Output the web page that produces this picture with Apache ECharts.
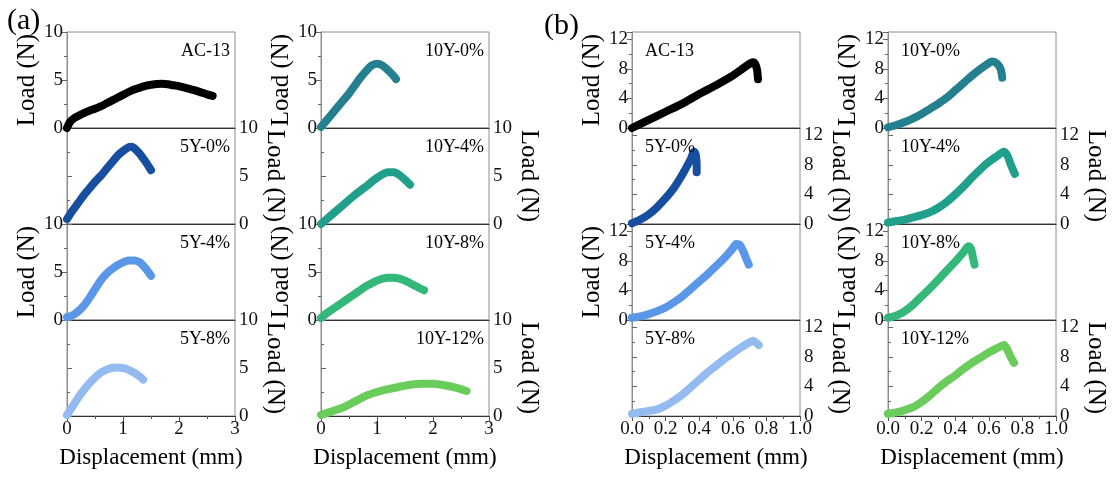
<!DOCTYPE html>
<html>
<head>
<meta charset="utf-8">
<script src="https://cdn.jsdelivr.net/npm/echarts@6.0.0/dist/echarts.min.js"></script>
<style>
  html, body { margin: 0; padding: 0; background: #fff; }
  #chart { width: 1115px; height: 480px; }
</style>
</head>
<body>
<div id="chart"></div>
<script>
// sample names and colours
var sampleNames = ['AC-13', '5Y-0%', '5Y-4%', '5Y-8%', '10Y-0%', '10Y-4%', '10Y-8%', '10Y-12%'];
var sampleColors = ['#000000', '#174ea0', '#5b97e8', '#93bbf0', '#24808e', '#20a08a', '#33b87a', '#6acd5b'];

// (a) displacement (mm) / load (N)
var aAC13 = [[0,0],[0.05,0.6],[0.1,0.9],[0.2,1.25],[0.3,1.55],[0.4,1.8],[0.5,2.0],[0.6,2.25],[0.7,2.55],[0.8,2.85],[0.9,3.15],[1.0,3.45],[1.1,3.75],[1.2,4.0],[1.3,4.2],[1.4,4.4],[1.5,4.5],[1.6,4.58],[1.7,4.6],[1.8,4.55],[1.9,4.45],[2.0,4.35],[2.1,4.2],[2.2,4.05],[2.3,3.9],[2.4,3.7],[2.5,3.5],[2.6,3.35]];
var a5Y0 = [[0,0.5],[0.1,1.4],[0.2,2.2],[0.3,3.0],[0.4,3.7],[0.5,4.4],[0.6,5.0],[0.7,5.7],[0.8,6.4],[0.9,7.1],[1.0,7.6],[1.1,8.0],[1.15,8.05],[1.2,7.9],[1.3,7.3],[1.4,6.5],[1.5,5.6]];
var a5Y4 = [[0,0.3],[0.1,0.5],[0.2,0.9],[0.3,1.5],[0.4,2.3],[0.5,3.2],[0.6,4.1],[0.7,4.8],[0.8,5.3],[0.9,5.7],[1.0,6.0],[1.1,6.2],[1.2,6.2],[1.3,6.0],[1.4,5.4],[1.5,4.6]];
var a5Y8 = [[0,0.1],[0.1,1.0],[0.2,1.9],[0.3,2.7],[0.4,3.4],[0.5,4.0],[0.6,4.5],[0.7,4.8],[0.8,5.0],[0.9,5.05],[1.0,5.0],[1.1,4.8],[1.2,4.5],[1.3,4.1],[1.36,3.8]];
var a10Y0 = [[0,0.1],[0.1,0.8],[0.2,1.5],[0.3,2.2],[0.4,2.9],[0.5,3.6],[0.6,4.4],[0.7,5.2],[0.8,5.9],[0.9,6.5],[1.0,6.7],[1.1,6.5],[1.2,6.0],[1.3,5.4],[1.34,5.1]];
var a10Y4 = [[0,0],[0.2,1.0],[0.4,2.0],[0.6,3.0],[0.8,3.9],[1.0,4.8],[1.2,5.4],[1.3,5.4],[1.4,5.1],[1.5,4.6],[1.59,4.1]];
var a10Y8 = [[0,0.2],[0.1,0.7],[0.2,1.1],[0.3,1.5],[0.4,1.9],[0.5,2.3],[0.6,2.7],[0.7,3.1],[0.8,3.5],[0.9,3.8],[1.0,4.1],[1.1,4.3],[1.2,4.4],[1.3,4.4],[1.4,4.3],[1.5,4.1],[1.6,3.8],[1.7,3.5],[1.8,3.2],[1.84,3.1]];
var a10Y12 = [[0,0.1],[0.2,0.5],[0.4,0.9],[0.6,1.5],[0.8,2.1],[1.0,2.5],[1.2,2.8],[1.4,3.05],[1.6,3.25],[1.8,3.35],[2.0,3.35],[2.2,3.2],[2.4,2.95],[2.6,2.6]];

// (b) displacement (mm) / load (N)
var bAC13 = [[0,0],[0.1,1.1],[0.2,2.2],[0.3,3.3],[0.4,4.6],[0.5,5.8],[0.6,7.1],[0.65,7.9],[0.7,8.7],[0.72,8.9],[0.735,8.6],[0.745,7.8],[0.75,6.6]];
var b5Y0 = [[0,0.1],[0.05,0.6],[0.1,1.3],[0.15,2.3],[0.2,3.5],[0.25,4.9],[0.3,6.7],[0.35,8.8],[0.37,9.8],[0.38,9.3],[0.385,8.0],[0.385,7.0]];
var b5Y4 = [[0,0.3],[0.05,0.5],[0.1,0.8],[0.15,1.2],[0.2,1.7],[0.25,2.4],[0.3,3.2],[0.35,4.2],[0.4,5.2],[0.45,6.2],[0.5,7.3],[0.55,8.4],[0.6,9.7],[0.62,10.3],[0.64,10.2],[0.66,9.4],[0.68,8.3],[0.695,7.5]];
var b5Y8 = [[0,0.3],[0.05,0.5],[0.1,0.7],[0.15,0.9],[0.2,1.4],[0.25,2.1],[0.3,2.9],[0.35,3.9],[0.4,4.9],[0.45,5.9],[0.5,6.8],[0.55,7.7],[0.6,8.5],[0.65,9.3],[0.7,10.0],[0.72,10.2],[0.74,9.9],[0.755,9.6]];
var b10Y0 = [[0,0.1],[0.05,0.4],[0.1,0.8],[0.15,1.3],[0.2,1.9],[0.25,2.6],[0.3,3.3],[0.35,4.1],[0.4,5.1],[0.45,6.1],[0.5,7.1],[0.55,8.0],[0.6,8.8],[0.62,9.0],[0.65,8.7],[0.67,8.0],[0.68,6.8]];
var b10Y4 = [[0,0.2],[0.05,0.4],[0.1,0.6],[0.15,0.9],[0.2,1.2],[0.25,1.6],[0.3,2.2],[0.35,3.0],[0.4,4.0],[0.45,5.1],[0.5,6.3],[0.55,7.4],[0.6,8.4],[0.65,9.2],[0.69,9.8],[0.71,9.3],[0.73,8.1],[0.755,6.8]];
var b10Y8 = [[0,0.3],[0.05,0.6],[0.1,1.2],[0.15,2.1],[0.2,3.2],[0.25,4.3],[0.3,5.5],[0.35,6.7],[0.4,7.9],[0.45,9.2],[0.48,10.0],[0.495,9.6],[0.505,8.5],[0.515,7.5]];
var b10Y12 = [[0,0.3],[0.05,0.5],[0.1,0.8],[0.15,1.2],[0.2,1.9],[0.25,2.8],[0.3,3.8],[0.35,4.7],[0.4,5.5],[0.45,6.4],[0.5,7.2],[0.55,7.9],[0.6,8.6],[0.65,9.2],[0.69,9.6],[0.71,9.0],[0.73,8.0],[0.75,7.2]];

var aData = [aAC13, a5Y0, a5Y4, a5Y8, a10Y0, a10Y4, a10Y8, a10Y12];
var bData = [bAC13, b5Y0, b5Y4, b5Y8, b10Y0, b10Y4, b10Y8, b10Y12];

(function () {
    'use strict';

    var font = 'Liberation Serif, serif';
    var colLeft = [67, 321, 632, 888];
    var rowTop = 32, rowH = 96, colW = 168;

    var grids = [], xAxes = [], yAxes = [], series = [], titles = [];

    // panel letters
    titles.push({ text: '(a)', left: 7, top: 6, padding: 0, textStyle: { fontFamily: font, fontSize: 30, fontWeight: 'normal', color: '#000' } });
    titles.push({ text: '(b)', left: 544, top: 11, padding: 0, textStyle: { fontFamily: font, fontSize: 30, fontWeight: 'normal', color: '#000' } });

    for (var p = 0; p < 16; p++) {
        var isA = p < 8;
        var k = p % 8;
        var col = (isA ? 0 : 2) + (k < 4 ? 0 : 1);
        var row = k % 4;
        var isBottom = row === 3;
        var onRight = row % 2 === 1;
        var rowY = rowTop + row * rowH;

        grids.push({ left: colLeft[col], top: rowY, width: colW, height: rowH,
            show: true, borderColor: '#8c8c8c', borderWidth: 1 });

        xAxes.push({
            type: 'value', gridIndex: p, min: 0, max: isA ? 3 : 1, interval: isA ? 1 : 0.2,
            axisLine: { lineStyle: { color: '#333', width: 1 } },
            axisTick: { show: isBottom, length: 5, lineStyle: { color: '#555' } },
            minorTick: { show: isBottom, splitNumber: 2, length: 3, lineStyle: { color: '#555' } },
            splitLine: { show: false },
            axisLabel: { show: isBottom, fontFamily: font, fontSize: 19, color: '#111', margin: 4,
                formatter: isA ? '{value}' : function (v) { return v.toFixed(1); } },
            name: isBottom ? 'Displacement (mm)' : '', nameLocation: 'middle', nameGap: 30,
            nameTextStyle: { fontFamily: font, fontSize: 23, color: '#000' }
        });

        yAxes.push({
            type: 'value', gridIndex: p, position: onRight ? 'right' : 'left',
            min: 0, max: isA ? 10 : 13, interval: isA ? 5 : 4,
            axisLine: { show: true, lineStyle: { color: '#8c8c8c' } },
            axisTick: { show: true, length: 5, lineStyle: { color: '#666' } },
            minorTick: { show: true, splitNumber: 2, length: 3, lineStyle: { color: '#666' } },
            splitLine: { show: false },
            axisLabel: { fontFamily: font, fontSize: 19, color: '#111', margin: 4, showMaxLabel: isA },
            name: 'Load (N)', nameLocation: 'middle', nameRotate: onRight ? -90 : 90,
            nameGap: onRight ? 27 : 24,
            nameTextStyle: { fontFamily: font, fontSize: 25, color: '#000' }
        });

        series.push({
            type: 'line', xAxisIndex: p, yAxisIndex: p, name: sampleNames[k],
            data: isA ? aData[k] : bData[k],
            showSymbol: false, smooth: 0.3, clip: false,
            lineStyle: { color: sampleColors[k], width: 8, cap: 'round', join: 'round' },
            z: 3
        });

        // sample label inside each panel
        var lab = { text: sampleNames[k], top: rowY + 10, padding: 0,
            textStyle: { fontFamily: font, fontSize: 18, fontWeight: 'normal', color: '#000' } };
        if (isA) lab.right = 1115 - (colLeft[col] + colW) + 5;
        else lab.left = colLeft[col] + 13;
        titles.push(lab);
    }

    var chart = echarts.init(document.getElementById('chart'));
    chart.setOption({
        animation: false,
        backgroundColor: '#fff',
        title: titles,
        grid: grids,
        xAxis: xAxes,
        yAxis: yAxes,
        series: series
    });
})();
</script>
</body>
</html>
